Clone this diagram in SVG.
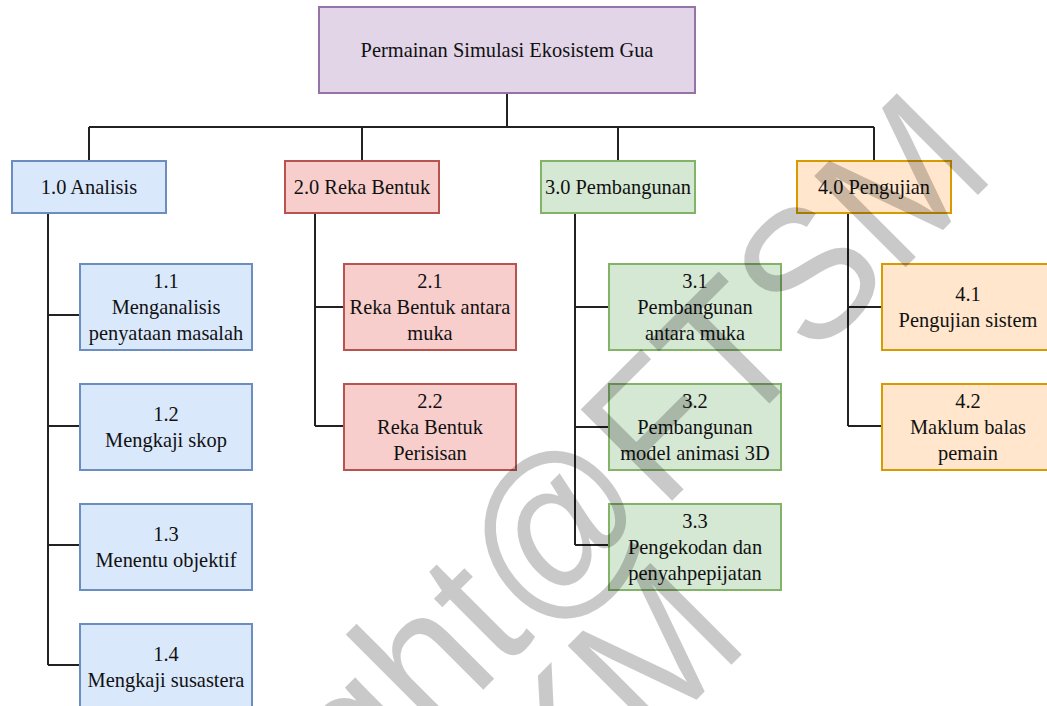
<svg xmlns="http://www.w3.org/2000/svg" width="1047" height="706" viewBox="0 0 1047 706">
<style>
.box{stroke-width:2}
.purple{fill:#e1d5e7;stroke:#9673a6}
.blue{fill:#dae8fc;stroke:#6c8ebf}
.red{fill:#f8cecc;stroke:#b85450}
.green{fill:#d5e8d4;stroke:#82b366}
.orange{fill:#ffe6cc;stroke:#d79b00}
.lbl{font-family:'Liberation Serif','DejaVu Serif',serif;font-size:20.4px;fill:#111;text-anchor:middle}
.conn{fill:none;stroke:#222;stroke-width:2}
.wm{font-family:'Liberation Sans','DejaVu Sans',sans-serif;font-size:188px;fill:#000;fill-opacity:0.21;text-anchor:middle}
</style>
<rect width="1047" height="706" fill="#fff"/>
<g id="connectors" class="conn">
<path d="M507 93V127M89 127H874M89 127V161M362 127V161M618 127V161M874 127V161"/>
<path d="M48 213V665M48 315H80M48 426H80M48 545H80M48 665H80"/>
<path d="M315 213V426M315 307H344M315 426H344"/>
<path d="M575 213V545M575 307H609M575 427H609M575 545H609"/>
<path d="M848 213V426M848 307H882M848 426H882"/>
</g>
<g id="nodes">
<g id="root"><rect class="box purple" x="319" y="7" width="376" height="86"/><text class="lbl" x="507" y="57">Permainan Simulasi Ekosistem Gua</text></g>
<g id="n1"><rect class="box blue" x="12" y="161" width="154" height="52"/><text class="lbl" x="89" y="194">1.0 Analisis</text></g>
<g id="n2"><rect class="box red" x="285" y="161" width="154" height="52"/><text class="lbl" x="362" y="194">2.0 Reka Bentuk</text></g>
<g id="n3"><rect class="box green" x="541" y="161" width="154" height="52"/><text class="lbl" x="618" y="194">3.0 Pembangunan</text></g>
<g id="n4"><rect class="box orange" x="797" y="161" width="154" height="52"/><text class="lbl" x="874" y="194">4.0 Pengujian</text></g>
<g id="n1_1"><rect class="box blue" x="80" y="264" width="172" height="86"/><text class="lbl" x="166" y="288">1.1</text><text class="lbl" x="166" y="314">Menganalisis</text><text class="lbl" x="166" y="340">penyataan masalah</text></g>
<g id="n1_2"><rect class="box blue" x="80" y="384" width="172" height="86"/><text class="lbl" x="166" y="421">1.2</text><text class="lbl" x="166" y="447">Mengkaji skop</text></g>
<g id="n1_3"><rect class="box blue" x="80" y="504" width="172" height="86"/><text class="lbl" x="166" y="541">1.3</text><text class="lbl" x="166" y="567">Menentu objektif</text></g>
<g id="n1_4"><rect class="box blue" x="80" y="624" width="172" height="86"/><text class="lbl" x="166" y="661">1.4</text><text class="lbl" x="166" y="687">Mengkaji susastera</text></g>
<g id="n2_1"><rect class="box red" x="344" y="264" width="172" height="86"/><text class="lbl" x="430" y="288">2.1</text><text class="lbl" x="430" y="314">Reka Bentuk antara</text><text class="lbl" x="430" y="340">muka</text></g>
<g id="n2_2"><rect class="box red" x="344" y="384" width="172" height="86"/><text class="lbl" x="430" y="408">2.2</text><text class="lbl" x="430" y="434">Reka Bentuk</text><text class="lbl" x="430" y="460">Perisisan</text></g>
<g id="n3_1"><rect class="box green" x="609" y="264" width="172" height="86"/><text class="lbl" x="695" y="288">3.1</text><text class="lbl" x="695" y="314">Pembangunan</text><text class="lbl" x="695" y="340">antara muka</text></g>
<g id="n3_2"><rect class="box green" x="609" y="384" width="172" height="86"/><text class="lbl" x="695" y="408">3.2</text><text class="lbl" x="695" y="434">Pembangunan</text><text class="lbl" x="695" y="460">model animasi 3D</text></g>
<g id="n3_3"><rect class="box green" x="609" y="504" width="172" height="86"/><text class="lbl" x="695" y="528">3.3</text><text class="lbl" x="695" y="554">Pengekodan dan</text><text class="lbl" x="695" y="580">penyahpepijatan</text></g>
<g id="n4_1"><rect class="box orange" x="882" y="264" width="172" height="86"/><text class="lbl" x="968" y="301">4.1</text><text class="lbl" x="968" y="327">Pengujian sistem</text></g>
<g id="n4_2"><rect class="box orange" x="882" y="384" width="172" height="86"/><text class="lbl" x="968" y="408">4.2</text><text class="lbl" x="968" y="434">Maklum balas</text><text class="lbl" x="968" y="460">pemain</text></g>
</g>
<g id="watermark" transform="translate(503,670) rotate(-45) scale(0.93,1)">
<text class="wm" x="0" y="0">Copyright@FTSM</text>
<text class="wm" x="0" y="158">UKM</text>
</g>
</svg>
